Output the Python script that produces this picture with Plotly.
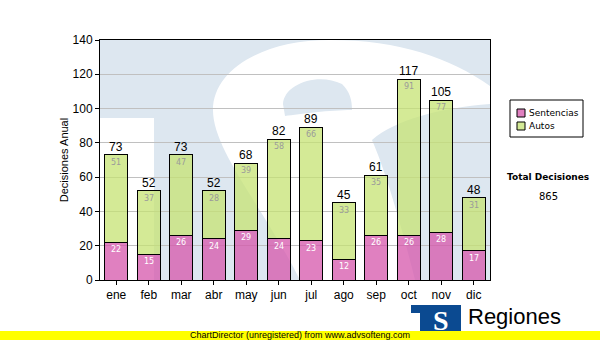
import plotly.graph_objects as go

months = ["ene", "feb", "mar", "abr", "may", "jun", "jul", "ago", "sep", "oct", "nov", "dic"]
sentencias = [22, 15, 26, 24, 29, 24, 23, 12, 26, 26, 28, 17]
autos = [51, 37, 47, 28, 39, 58, 66, 33, 35, 91, 77, 31]
totals = [s + a for s, a in zip(sentencias, autos)]
series_names = ["Sentencias", "Autos"]
series_colors = ["rgba(214,86,171,0.75)", "rgba(198,227,115,0.75)"]
legend_swatch = ["#e080c0", "#d4ea96"]
total_label = "Total Decisiones"
y_title = "Decisiones Anual"
y_ticks = [0, 20, 40, 60, 80, 100, 120, 140]

W, H = 600, 340
L, R, T, B = 100, 110, 40, 60
PW, PH = W - L - R, H - T - B


def px(x, y):
    return (x - L) / PW, (H - B - y) / PH


def path(cmds):
    out = []
    for c in cmds:
        if isinstance(c, str):
            out.append(c)
        else:
            u, v = px(*c)
            out.append(f"{u:.4f},{v:.4f}")
    return " ".join(out)


def prect(x0, y0, x1, y1, **kw):
    a, b = px(x0, y1)
    c, d = px(x1, y0)
    return dict(type="rect", xref="paper", yref="paper", x0=a, y0=b, x1=c, y1=d, **kw)


def ptext(x, y, text, xanchor="center", **kw):
    u, v = px(x, y)
    return dict(xref="paper", yref="paper", x=u, y=v, text=text, showarrow=False,
                xanchor=xanchor, yanchor="middle", **kw)


fig = go.Figure()
for name, vals, col in zip(series_names, [sentencias, autos], series_colors):
    fig.add_trace(go.Bar(
        x=months, y=vals, name=name,
        marker=dict(color=col, line=dict(color="black", width=1)),
    ))

annotations = []
for m, s, a, t in zip(months, sentencias, autos, totals):
    annotations.append(dict(x=m, y=t, text=str(t), showarrow=False, yanchor="bottom",
                            xanchor="center", yshift=-1,
                            font=dict(family="Arial", size=12, color="black")))
    annotations.append(dict(x=m, y=t, text=str(a), showarrow=False, yanchor="top",
                            xanchor="center", yshift=-1,
                            font=dict(family="DejaVu Sans", size=8, color="#9a9a9a")))
    annotations.append(dict(x=m, y=s, text=str(s), showarrow=False, yanchor="top",
                            xanchor="center", yshift=-1,
                            font=dict(family="DejaVu Sans", size=8, color="white")))

annotations.append(ptext(548, 177, "<b>" + total_label + "</b>",
                         font=dict(family="DejaVu Sans", size=9, color="black")))
annotations.append(ptext(548, 196, str(sum(totals)),
                         font=dict(family="DejaVu Sans", size=10, color="black")))
# legend texts
for i, name in enumerate(series_names):
    annotations.append(ptext(527, 113 + 13 * i, name, xanchor="left",
                             font=dict(family="DejaVu Sans", size=9, color="black")))
# footer texts
annotations.append(ptext(466, 316, "Regiones", xanchor="left",
                         font=dict(family="Arial", size=22, color="black")))
annotations.append(ptext(441, 320, "<b>S</b>",
                         font=dict(family="Liberation Serif", size=28, color="white")))
annotations.append(ptext(300, 335, "ChartDirector (unregistered) from www.advsofteng.com",
                         font=dict(family="Arial", size=9, color="black")))

wm_blue = "#dde7f0"
shapes = []
# watermark: white T cut-out on left
shapes.append(prect(100, 118, 154, 280, fillcolor="white", line_width=0, layer="below"))
# watermark: white S stroke
s_path = path([
    "M", (490, 86),
    "C", (450, 58), (400, 40), (330, 40),
    "C", (262, 40), (213, 70), (213, 110),
    "C", (213, 150), (262, 205), (300, 280),
    "L", (415, 280),
    "C", (400, 220), (385, 170), (372, 140),
    "C", (395, 120), (440, 108), (490, 104),
    "Z",
])
shapes.append(dict(type="path", xref="paper", yref="paper", path=s_path,
                   fillcolor="white", line_width=0, layer="below"))
# watermark: S counter (blue)
c_path = path([
    "M", (283, 104),
    "C", (284, 84), (318, 72), (342, 84),
    "C", (350, 92), (352, 100), (352, 110),
    "C", (330, 110), (300, 114), (285, 116),
    "Z",
])
shapes.append(dict(type="path", xref="paper", yref="paper", path=c_path,
                   fillcolor=wm_blue, line_width=0, layer="below"))

# legend box
shapes.append(prect(510, 100, 583, 137, fillcolor="white", line=dict(color="black", width=1),
                    layer="above"))
for i, col in enumerate(legend_swatch):
    shapes.append(prect(517, 109 + 13 * i, 525, 117 + 13 * i, fillcolor=col,
                        line=dict(color="black", width=1), layer="above"))

# logo
shapes.append(prect(411, 305, 461, 340, fillcolor="#0b4a91", line_width=0, layer="above"))
shapes.append(prect(411, 313, 420, 340, fillcolor="white", line_width=0, layer="above"))
# yellow footer bar
shapes.append(prect(0, 331, 600, 340, fillcolor="#ffff00", line_width=0, layer="above"))

fig.update_layout(
    width=W, height=H,
    margin=dict(l=L, r=R, t=T, b=B, pad=0, autoexpand=False),
    barmode="stack", bargap=0.29,
    paper_bgcolor="white", plot_bgcolor=wm_blue,
    font=dict(family="Arial", size=12, color="black"),
    showlegend=False,
    xaxis=dict(showline=True, linecolor="black", linewidth=1, mirror=True,
               ticks="outside", ticklen=4, tickcolor="black", automargin=False,
               tickfont=dict(family="Arial", size=12, color="black")),
    yaxis=dict(range=[0, 140], tickvals=y_ticks, showline=True, linecolor="black", linewidth=1,
               mirror=True, ticks="outside", ticklen=4, tickcolor="black", automargin=False,
               showgrid=True, gridcolor="#c0c0c0", gridwidth=1, zeroline=False,
               tickfont=dict(family="Arial", size=12, color="black"),
               title=dict(text=y_title, font=dict(family="Arial", size=11, color="black"),
                          standoff=1)),
    annotations=annotations,
    shapes=shapes,
)

fig.write_html("out.html")
